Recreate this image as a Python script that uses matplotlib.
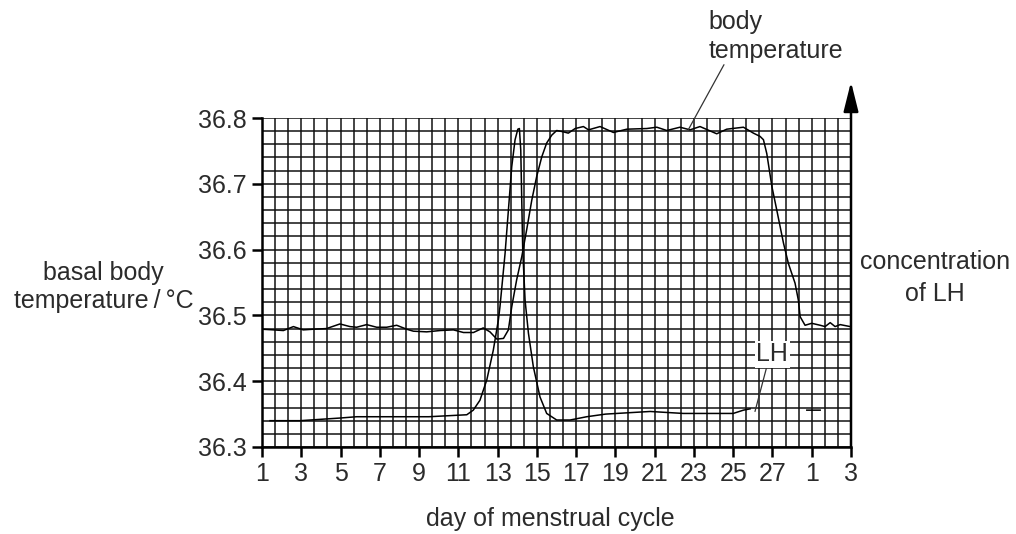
import numpy as np
import matplotlib
matplotlib.use("Agg")
import matplotlib.pyplot as plt

plt.rcParams["font.family"] = ["Liberation Sans", "DejaVu Sans"]

# basal body temperature (day, degC)
temp_day = [1.0, 1.58, 2.09, 2.6, 3.1, 3.61, 4.29, 4.97, 5.48, 5.82, 6.33, 6.84, 7.35, 7.86,
            8.37, 8.71, 9.39, 10.07, 10.75, 11.26, 11.77, 12.27, 12.61, 12.96, 13.3, 13.55,
            13.72, 13.97, 14.23, 14.48, 14.74, 14.99, 15.25, 15.5, 15.76, 16.01, 16.35, 16.6,
            16.95, 17.37, 17.63, 18.22, 18.9, 19.58, 20.6, 21.11, 21.62, 22.29, 22.8, 23.31,
            24.16, 24.67, 25.52, 26.03, 26.37, 26.54, 26.71, 26.97, 27.22, 27.56, 27.81, 28.15,
            28.32, 28.41, 28.66, 29.0, 29.43, 29.68, 29.94, 30.19, 30.45, 30.96]
temp_val = [36.479, 36.478, 36.477, 36.483, 36.478, 36.479, 36.480, 36.487, 36.483, 36.482,
            36.486, 36.482, 36.482, 36.485, 36.479, 36.476, 36.475, 36.477, 36.478, 36.474,
            36.474, 36.481, 36.475, 36.464, 36.465, 36.478, 36.513, 36.554, 36.589, 36.630,
            36.675, 36.711, 36.741, 36.762, 36.774, 36.781, 36.779, 36.777, 36.784, 36.787,
            36.782, 36.787, 36.778, 36.783, 36.784, 36.786, 36.781, 36.786, 36.782, 36.787,
            36.776, 36.783, 36.786, 36.777, 36.772, 36.767, 36.746, 36.696, 36.660, 36.610,
            36.579, 36.549, 36.523, 36.498, 36.485, 36.488, 36.485, 36.483, 36.489, 36.483,
            36.486, 36.483]

# LH concentration, drawn on the same vertical scale (arbitrary units)
lh_day = [1.41, 2.94, 4.97, 5.82, 7.5, 9.5, 11.43, 11.76, 12.1, 12.45, 12.78, 13.04, 13.12,
          13.38, 13.55, 13.72, 13.89, 14.03, 14.11, 14.18, 14.23, 14.28, 14.4, 14.57, 14.82,
          15.16, 15.5, 16.01, 16.69, 17.54, 18.5, 20.77, 22.46, 25.0, 25.52, 25.86, np.nan,
          28.75, 29.43]
lh_val = [36.340, 36.340, 36.344, 36.346, 36.346, 36.346, 36.349, 36.356, 36.371, 36.402,
          36.447, 36.493, 36.513, 36.594, 36.660, 36.726, 36.767, 36.783, 36.784, 36.751,
          36.675, 36.599, 36.523, 36.473, 36.422, 36.376, 36.351, 36.341, 36.341, 36.346,
          36.350, 36.354, 36.351, 36.351, 36.356, 36.358, np.nan, 36.356, 36.356]

x_ticks = list(range(1, 32, 2))
x_labels = ["1", "3", "5", "7", "9", "11", "13", "15", "17", "19", "21", "23", "25", "27", "1", "3"]
y_ticks = [36.3, 36.4, 36.5, 36.6, 36.7, 36.8]

txt = "#2b2b2b"
fs = 18

fig = plt.figure(figsize=(10.16, 5.34), dpi=100)
ax = fig.add_axes([262 / 1016, 87 / 534, 589 / 1016, 329 / 534])
ax.set_xlim(1, 31)
ax.set_ylim(36.3, 36.8)

# fine grid: 2/3 day by 0.02 degC
for gx in np.arange(1, 31.01, 2 / 3):
    ax.axvline(gx, color="#111111", lw=1.1, zorder=1)
for gy in np.arange(36.3, 36.801, 0.02):
    ax.axhline(gy, color="#111111", lw=1.1, zorder=1)

ax.plot(temp_day, temp_val, color="black", lw=1.1, zorder=3)
ax.plot(lh_day, lh_val, color="black", lw=1.1, zorder=3)

ax.set_xticks(x_ticks)
ax.set_xticklabels(x_labels)
ax.set_yticks(y_ticks)
ax.set_yticklabels([f"{v:.1f}" for v in y_ticks])
ax.tick_params(direction="out", length=7, width=1.8, labelsize=fs, labelcolor=txt, pad=4)
ax.tick_params(axis="y", pad=4)

for s in ["top", "right"]:
    ax.spines[s].set_visible(False)
for s in ["left", "bottom"]:
    ax.spines[s].set_linewidth(1.8)

# right-hand axis arrow for LH
ax.annotate("", xy=(1, 1.11), xytext=(1, 0), xycoords="axes fraction",
            arrowprops=dict(arrowstyle="-|>,head_length=1.0,head_width=0.25",
                            mutation_scale=18, lw=1.8, color="black", shrinkA=0, shrinkB=0))

# labels with leader lines
ax.annotate("", xy=(22.71, 36.782), xytext=(24.53, 36.881),
            arrowprops=dict(arrowstyle="-", lw=0.9, color="#333333", shrinkA=0, shrinkB=0))
ax.text(23.74, 36.924, "body\ntemperature", ha="left", va="center", fontsize=fs,
        color=txt, linespacing=1.25, clip_on=False)

ax.annotate("", xy=(26.11, 36.354), xytext=(26.71, 36.422),
            arrowprops=dict(arrowstyle="-", lw=0.9, color="#333333", shrinkA=0, shrinkB=0))
ax.text(26.98, 36.441, "LH", ha="center", va="center", fontsize=fs, color=txt, zorder=5,
        bbox=dict(facecolor="white", edgecolor="none", pad=1.0))

fig.text(103.5 / 1016, 1 - 287 / 534, "basal body\ntemperature\u2009/\u2009°C", ha="center",
         va="center", fontsize=fs, color=txt, linespacing=1.2)
fig.text(935 / 1016, 1 - 278 / 534, "concentration\nof LH", ha="center", va="center",
         fontsize=fs, color=txt, linespacing=1.45)
fig.text(550 / 1016, 1 - 519 / 534, "day of menstrual cycle", ha="center", va="center",
         fontsize=fs, color=txt)

fig.savefig("out.png", dpi=100, facecolor="white")
